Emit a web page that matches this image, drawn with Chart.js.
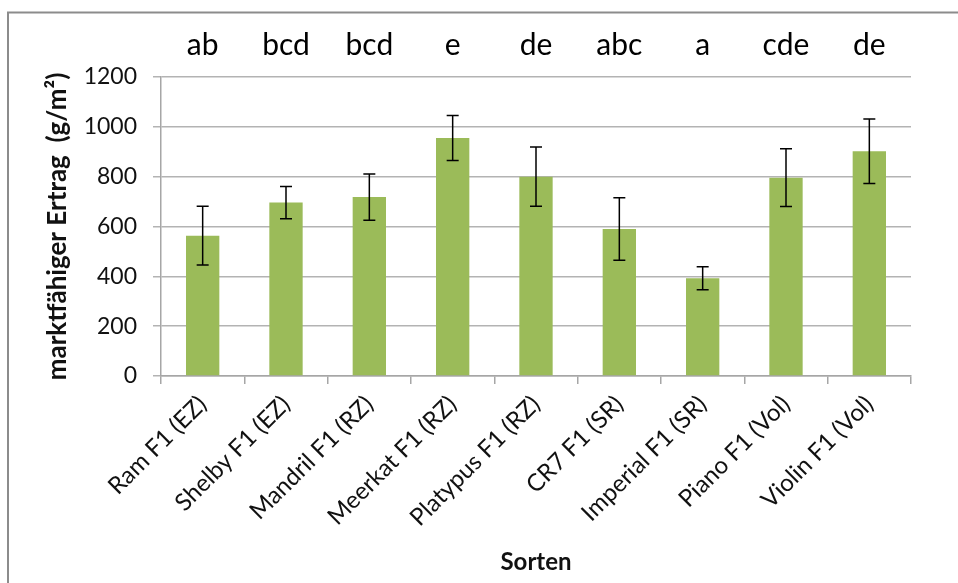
<!DOCTYPE html>
<html>
<head>
<meta charset="utf-8">
<script src="https://cdn.jsdelivr.net/npm/chart.js@4.4.0/dist/chart.umd.min.js"></script>
<style>
    html, body { margin: 0; padding: 0; background: #fff; }
    #wrap { width: 958px; height: 583px; position: relative; }
</style>
</head>
<body>
<div id="wrap"><canvas id="ertragChart"></canvas></div>
<script>
// Sorten and mean marketable yield (g/m2), with error (+/-) and significance letters
const sorten = ["Ram F1 (EZ)", "Shelby F1 (EZ)", "Mandril F1 (RZ)", "Meerkat F1 (RZ)", "Platypus F1 (RZ)",
                "CR7 F1 (SR)", "Imperial F1 (SR)", "Piano F1 (Vol)", "Violin F1 (Vol)"];
const ertrag = [563, 696, 718, 955, 800, 590, 392, 796, 902];
const fehler = [118, 65, 93, 90, 119, 125, 46, 116, 129];
const buchstaben = ["ab", "bcd", "bcd", "e", "de", "abc", "a", "cde", "de"];
const yTicks = [0, 200, 400, 600, 800, 1000, 1200];

const FONT = "Lato, 'Open Sans', sans-serif";

// frame lines like the Excel chart area (top and left only visible)
const framePlugin = {
    id: "frame",
    beforeDraw(chart) {
        const ctx = chart.ctx;
        ctx.save();
        ctx.strokeStyle = "#8c8c8c";
        ctx.lineWidth = 2;
        ctx.beginPath();
        ctx.moveTo(8, 583);
        ctx.lineTo(8, 12.5);
        ctx.lineTo(958, 12.5);
        ctx.stroke();
        ctx.restore();
    }
};

// error bars with caps
const errorBarPlugin = {
    id: "errorBars",
    afterDatasetsDraw(chart) {
        const ctx = chart.ctx;
        const x = chart.scales.x;
        const y = chart.scales.y;
        ctx.save();
        ctx.strokeStyle = "#000";
        ctx.lineWidth = 1.5;
        ertrag.forEach((v, i) => {
            const cx = x.getPixelForValue(i);
            const top = y.getPixelForValue(v + fehler[i]);
            const bot = y.getPixelForValue(v - fehler[i]);
            ctx.beginPath();
            ctx.moveTo(cx, top);
            ctx.lineTo(cx, bot);
            ctx.moveTo(cx - 6, top);
            ctx.lineTo(cx + 6, top);
            ctx.moveTo(cx - 6, bot);
            ctx.lineTo(cx + 6, bot);
            ctx.stroke();
        });
        ctx.restore();
    }
};

// significance letters above plot
const letterPlugin = {
    id: "letters",
    afterDraw(chart) {
        const ctx = chart.ctx;
        const x = chart.scales.x;
        ctx.save();
        ctx.fillStyle = "#000";
        ctx.font = "30px " + FONT;
        ctx.textAlign = "center";
        ctx.textBaseline = "alphabetic";
        buchstaben.forEach((b, i) => {
            ctx.fillText(b, x.getPixelForValue(i), 55);
        });
        ctx.restore();
    }
};

new Chart(document.getElementById("ertragChart"), {
    type: "bar",
    data: {
        labels: sorten,
        datasets: [{
            data: ertrag,
            backgroundColor: "#9bbb59",
            borderWidth: 0,
            barPercentage: 0.4,
            categoryPercentage: 1
        }]
    },
    options: {
        responsive: true,
        maintainAspectRatio: false,
        animation: false,
        devicePixelRatio: 1,
        layout: { padding: { left: 42, right: 47, top: 77, bottom: 6 } },
        plugins: { legend: { display: false }, tooltip: { enabled: false } },
        scales: {
            x: {
                afterFit(scale) { scale.height = 201; },
                grid: { display: true, drawOnChartArea: false, offset: true, color: "#a6a6a6", lineWidth: 1.5, tickLength: 8 },
                border: { color: "#a6a6a6", width: 1.5 },
                ticks: {
                    color: "#111",
                    font: { family: FONT, size: 24 },
                    maxRotation: 45,
                    minRotation: 45,
                    padding: 6,
                    autoSkip: false
                },
                title: {
                    display: true,
                    text: "Sorten",
                    color: "#111",
                    font: { family: FONT, size: 24, weight: "bold" },
                    padding: 0
                }
            },
            y: {
                min: 0,
                max: 1200,
                afterFit(scale) { scale.width = 119; },
                afterBuildTicks(scale) { scale.ticks = yTicks.map(v => ({ value: v })); },
                grid: { color: "#b3b3b3", lineWidth: 1.5, tickLength: 8 },
                border: { color: "#a6a6a6", width: 1.5 },
                ticks: {
                    color: "#111",
                    font: { family: FONT, size: 23 },
                    padding: 16,
                    callback: v => String(v)
                },
                title: {
                    display: true,
                    text: "marktfähiger Ertrag  (g/m²)",
                    color: "#111",
                    font: { family: FONT, size: 26, weight: "bold" },
                    padding: 0
                }
            }
        }
    },
    plugins: [framePlugin, errorBarPlugin, letterPlugin]
});
</script>
</body>
</html>
